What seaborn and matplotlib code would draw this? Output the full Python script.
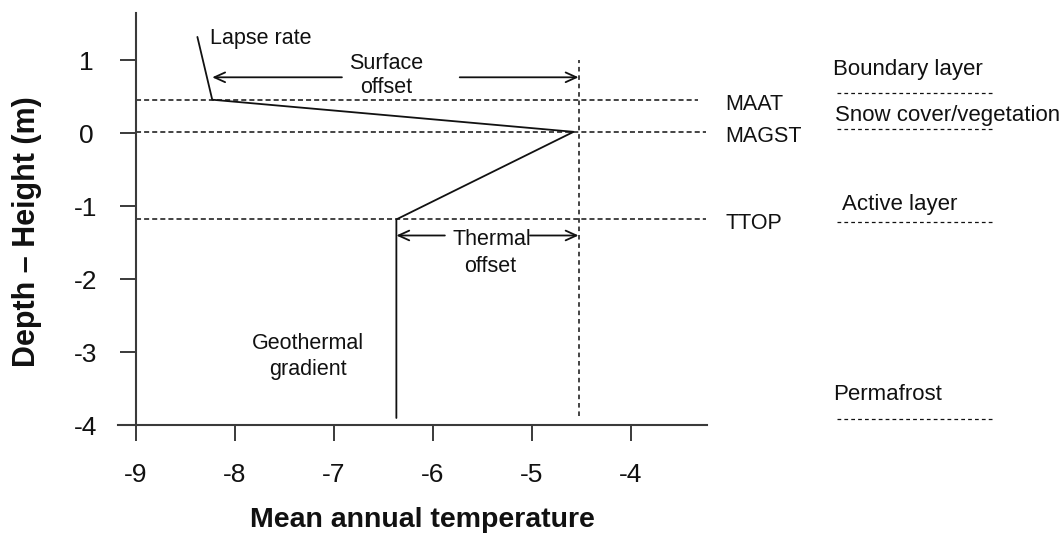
import matplotlib
matplotlib.use("Agg")
import matplotlib.pyplot as plt
import seaborn as sns

# Idealised mean-annual temperature profile from air, through the surface, into permafrost
profile_temp = [-8.38, -8.23, -4.58, -6.37, -6.37]
profile_depth = [1.32, 0.46, 0.02, -1.18, -3.90]

# Reference levels along the profile
level_names = ["MAAT", "MAGST", "TTOP"]
level_depth = [0.46, 0.02, -1.18]
level_end = [-3.32, -3.24, -3.24]

# Mean annual ground surface temperature reference (vertical guide)
ground_temp = -4.53
ground_span = [1.0, -3.87]

# Layer legend on the right-hand side
layer_names = ["Boundary layer", "Snow cover/vegetation", "Active layer", "Permafrost"]
layer_label_x = [-1.957, -1.94, -1.87, -1.96]
layer_label_depth = [0.87, 0.25, -0.98, -3.585]
layer_line_depth = [0.548, 0.055, -1.21, -3.918]
layer_line_x = [-1.92, -0.357]

x_ticks = [-9, -8, -7, -6, -5, -4]
y_ticks = [1, 0, -1, -2, -3, -4]

sns.set_theme(style="ticks")
plt.rcParams["font.family"] = ["Liberation Sans", "DejaVu Sans"]

ink = "#111111"
axis_col = "#3a3a3a"
txt = 15.5

fig = plt.figure(figsize=(10.62, 5.42), dpi=100)
ax = fig.add_axes([0, 0, 1, 1])
ax.set_xlim(-10.374, 0.354)
ax.set_ylim(-5.599, 1.826)
ax.patch.set_alpha(0)

# profile
sns.lineplot(x=profile_temp, y=profile_depth, sort=False, estimator=None,
             color=ink, linewidth=1.3, ax=ax)

# horizontal reference levels
for name, d, xe in zip(level_names, level_depth, level_end):
    ax.hlines(d, -9, xe, colors=ink, linewidth=1.1, linestyles=(0, (3.3, 2.0)))
    ax.text(-3.05, d - 0.06, name, fontsize=txt, color=ink, ha="left", va="center")

# vertical MAGST guide
ax.vlines(ground_temp, ground_span[1], ground_span[0], colors=ink,
          linewidth=1.1, linestyles=(0, (3.0, 2.5)))

arrow = dict(arrowstyle="->,head_length=0.55,head_width=0.25", color=ink,
             lw=1.3, shrinkA=0, shrinkB=0, mutation_scale=14)

# surface offset
y_so = 0.767
ax.annotate("", xy=(profile_temp[1], y_so), xytext=(-6.92, y_so), arrowprops=arrow)
ax.annotate("", xy=(ground_temp, y_so), xytext=(-5.73, y_so), arrowprops=arrow)
ax.text(-6.47, 0.79, "Surface\noffset", fontsize=txt, color=ink,
        ha="center", va="center", multialignment="center")

# thermal offset
y_to = -1.40
ax.annotate("", xy=(profile_temp[3], y_to), xytext=(-5.88, y_to), arrowprops=arrow)
ax.annotate("", xy=(ground_temp, y_to), xytext=(-5.02, y_to), arrowprops=arrow)
ax.text(-5.41, -1.45, "Thermal", fontsize=txt, color=ink, ha="center", va="center")
ax.text(-5.42, -1.83, "offset", fontsize=txt, color=ink, ha="center", va="center")

ax.text(-8.25, 1.30, "Lapse rate", fontsize=txt, color=ink, ha="left", va="center")
ax.text(-7.26, -2.877, "Geothermal", fontsize=txt, color=ink, ha="center", va="center")
ax.text(-7.26, -3.24, "gradient", fontsize=txt, color=ink, ha="center", va="center")

# layer legend
for name, lx, ly, dl in zip(layer_names, layer_label_x, layer_label_depth, layer_line_depth):
    ax.text(lx, ly, name, fontsize=16, color=ink, ha="left", va="center")
    ax.hlines(dl, layer_line_x[0], layer_line_x[1], colors=ink, linewidth=0.9,
              linestyles=(0, (3.0, 2.5)))

# axes
for side in ("top", "right"):
    ax.spines[side].set_visible(False)
ax.spines["left"].set_position(("data", -9))
ax.spines["left"].set_bounds(-4, 1.652)
ax.spines["bottom"].set_position(("data", -4))
ax.spines["bottom"].set_bounds(-9.18, -3.235)
for side in ("left", "bottom"):
    ax.spines[side].set_color(axis_col)
    ax.spines[side].set_linewidth(1.5)

ax.set_xticks(x_ticks)
ax.set_yticks(y_ticks)
ax.set_xticklabels([str(v) for v in x_ticks])
ax.set_yticklabels([str(v) for v in y_ticks])
ax.tick_params(axis="both", direction="out", length=11.5, width=1.4,
               color=axis_col, labelsize=19, labelcolor=ink)
ax.tick_params(axis="x", pad=16)
ax.tick_params(axis="y", pad=24.5)
plt.setp(ax.get_yticklabels(), ha="center")

ax.set_xlabel("Mean annual temperature", fontsize=20.5, fontweight="bold", color=ink)
ax.set_ylabel("Depth \u2013 Height (m)", fontsize=22, fontweight="bold", color=ink)
ax.xaxis.label.set_va("center")
ax.yaxis.label.set_va("center")
ax.xaxis.set_label_coords(0.398, 0.0406)
ax.yaxis.set_label_coords(0.025, 0.573)

fig.savefig("out.png", dpi=100, facecolor="white")
